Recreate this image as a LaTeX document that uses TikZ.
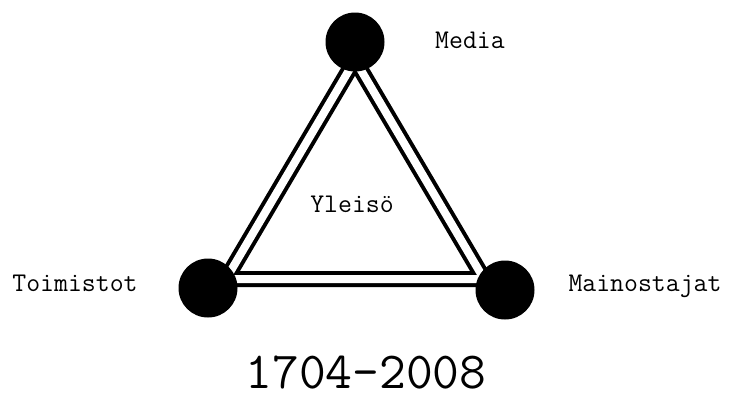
\documentclass[tikz,border=0pt]{standalone}
\usepackage{fontspec}
\usetikzlibrary{positioning}
\tikzset{
  hub/.style={circle, fill=black, minimum size=59pt, inner sep=0pt},
  lbl/.style={font=\ttfamily\fontsize{27}{27}\selectfont},
  band/.style={line width=4pt, double=white, double distance=8pt, line join=miter},
}

\begin{document}
\begin{tikzpicture}[x=1pt,y=-1pt]
  \useasboundingbox (0,0) rectangle (738,400);
  % corners of the triangle
  \coordinate (apex) at (355,60);
  \coordinate (sw) at (226,279);
  \coordinate (se) at (484,279);
  \draw[band] (apex) -- (sw) -- (se) -- cycle;
  % the three parties
  \node[hub] (media) at (355,42) {};
  \node[hub] (toim) at (208,288) {};
  \node[hub] (main) at (505,290) {};
  \node[lbl] (medialbl) at (470,40) {Media};
  \node[lbl] (toimlbl) at (75,283) {Toimistot};
  \node[lbl] (mainlbl) at (645,286) {Mainostajat};
  \node[lbl] (yleiso) at (352,204) {Yleisö};
  \node[font=\ttfamily\fontsize{52}{52}\selectfont, inner sep=0pt] (years) at (366,373) {1704-2008};
\end{tikzpicture}
\end{document}
